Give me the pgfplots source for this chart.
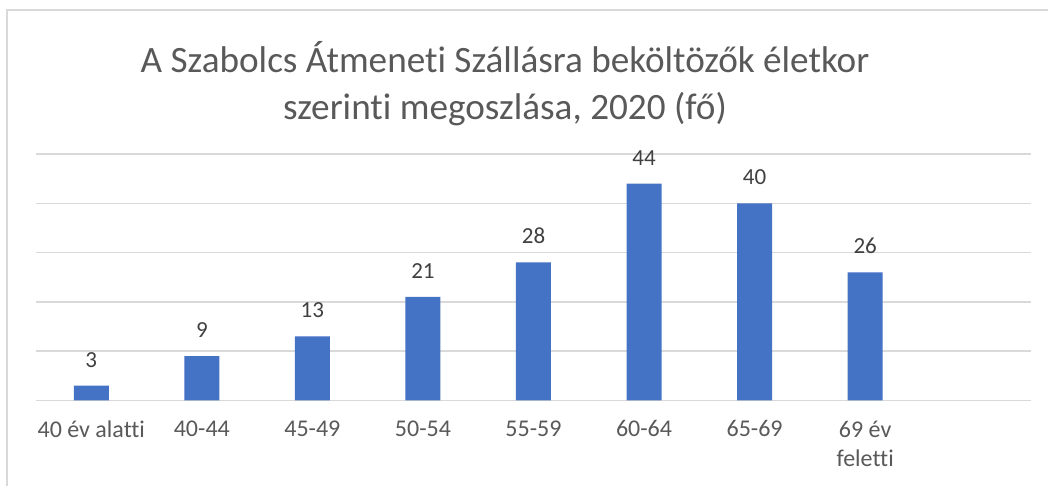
\documentclass[border=0pt]{standalone}
\usepackage{fontspec}
\setmainfont{Carlito}[Ligatures=NoCommon]
\usepackage{pgfplots}
\pgfplotsset{compat=1.18}
\definecolor{barblue}{HTML}{4472C4}
\definecolor{gridgray}{HTML}{D9D9D9}
\definecolor{txtgray}{HTML}{595959}
\definecolor{lblgray}{HTML}{404040}
\begin{document}
\begin{tikzpicture}
\path[use as bounding box] (0,0) rectangle (524pt,243pt);
% chart frame (left and top edges visible)
\draw[gridgray, line width=0.75pt] (3.5pt,0) -- (3.5pt,238pt) -- (524pt,238pt);
% title
\node[txtgray, font=\fontsize{18.6}{23.5}\selectfont, anchor=base] at (252.5pt,206.5pt)
  {A Szabolcs Átmeneti Szállásra beköltözők életkor};
\node[txtgray, font=\fontsize{18.6}{23.5}\selectfont, anchor=base] at (252.5pt,183pt)
  {szerinti megoszlása, 2020 (fő)};
\begin{axis}[
    at={(18pt,42.75pt)}, anchor=south west,
    width=497.5pt, height=123.25pt, scale only axis,
    xmin=-0.5, xmax=8.5, ymin=0, ymax=50,
    ybar, bar width=17.5pt,
    axis line style={draw=none},
    tick style={draw=none}, major tick length=0pt,
    ytick={0,10,...,50}, yticklabels={},
    ymajorgrids, grid style={gridgray, line width=0.75pt},
    xtick={0,...,7},
    xticklabels={40 év alatti,40-44,45-49,50-54,55-59,60-64,65-69,{69 év\\feletti}},
    xticklabel style={txtgray, font=\fontsize{12}{14.5}\selectfont, align=center, yshift=-6.6pt},
    nodes near coords,
    nodes near coords style={lblgray, font=\fontsize{11.5}{13}\selectfont, anchor=south, inner sep=0pt, yshift=9pt},
    /pgf/number format/assume math mode=true,
    clip=false,
]
\addplot[fill=barblue, draw=none] coordinates {
    (0,3) (1,9) (2,13) (3,21) (4,28) (5,44) (6,40) (7,26)
};
\end{axis}
\end{tikzpicture}
\end{document}
